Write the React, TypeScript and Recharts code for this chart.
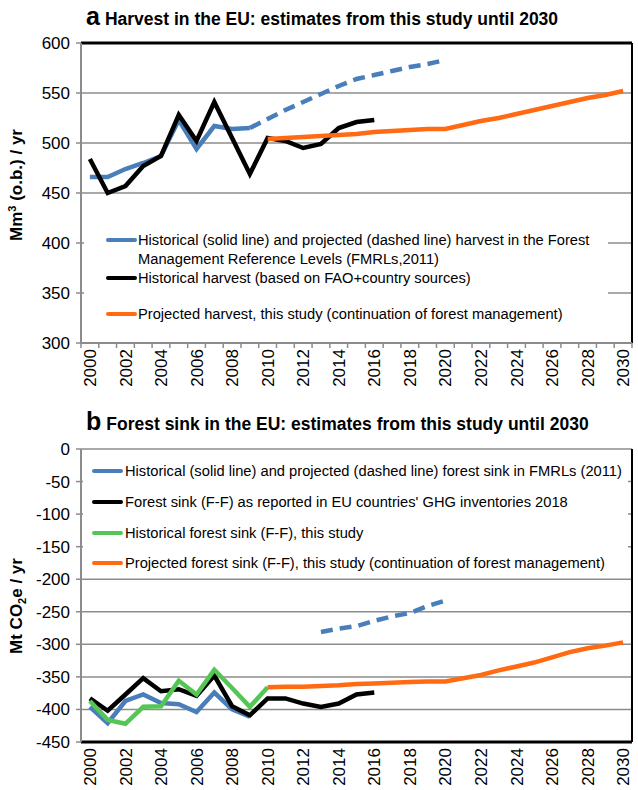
import React from 'react';
import { LineChart, Line, XAxis, YAxis, CartesianGrid, ReferenceLine, Legend } from 'recharts';

const FONT = '"Liberation Sans", Arial, Helvetica, sans-serif';
const BLUE = '#4A7EBB';
const ORANGE = '#FF6A13';
const GREEN = '#55C655';
const BLACK = '#000000';
const GRAY = '#8C8C8C';

// categories
const years = [2000, 2001, 2002, 2003, 2004, 2005, 2006, 2007, 2008, 2009, 2010, 2011, 2012, 2013, 2014, 2015,
  2016, 2017, 2018, 2019, 2020, 2021, 2022, 2023, 2024, 2025, 2026, 2027, 2028, 2029, 2030];
const labelYears = [2000, 2002, 2004, 2006, 2008, 2010, 2012, 2014, 2016, 2018, 2020, 2022, 2024, 2026, 2028, 2030];
const harvestTicks = [300, 350, 400, 450, 500, 550, 600];
const sinkTicks = [-450, -400, -350, -300, -250, -200, -150, -100, -50, 0];

// panel a: harvest (Mm3 o.b. / yr)
const harvestFmrlHist = [466, 466, 474, 480, 487, 523, 494, 517, 514, 515]; // 2000-2009
const harvestFmrlProj = [515, 524, 533, 541, 549, 557, 564, 568, 572, 576, 579, 583]; // 2009-2020
const harvestHist = [484, 450, 457, 477, 487, 528, 502, 541, 505, 469, 505, 502, 495, 499, 515, 521, 523]; // 2000-2016
const harvestProj = [504, 505, 506, 507, 508, 509, 511, 512, 513, 514, 514, 518, 522, 525, 529, 533, 537, 541, 545, 548, 552]; // 2010-2030

// panel b: forest sink (Mt CO2e / yr)
const sinkFmrlHist = [-396, -421, -387, -377, -390, -392, -404, -374, -400, -411]; // 2000-2009
const sinkFmrlProj = [-281, -276, -272, -264, -257, -252, -241, -233]; // 2013-2020
const sinkReported = [-383, -402, -377, -352, -372, -369, -379, -348, -395, -409, -383, -383, -391, -396, -391, -377, -374]; // 2000-2016
const sinkHist = [-387, -416, -422, -396, -395, -356, -377, -339, -367, -396, -366]; // 2000-2010
const sinkProj = [-366, -365, -365, -364, -363, -361, -360, -359, -358, -357, -357, -352, -347, -340, -334, -328, -320, -312, -306, -302, -297]; // 2010-2030

const harvestLegend = [
  { color: BLUE, lines: ['Historical (solid line) and projected (dashed line) harvest in the Forest', 'Management Reference Levels (FMRLs,2011)'] },
  { color: BLACK, lines: ['Historical harvest (based on FAO+country sources)'] },
  { color: ORANGE, lines: ['Projected harvest, this study (continuation of forest management)'] },
];
const sinkLegend = [
  { color: BLUE, lines: ['Historical (solid line) and projected (dashed line) forest sink in FMRLs (2011)'] },
  { color: BLACK, lines: ["Forest sink (F-F) as reported in EU countries' GHG inventories 2018"] },
  { color: GREEN, lines: ['Historical forest sink (F-F), this study'] },
  { color: ORANGE, lines: ['Projected forest sink (F-F), this study (continuation of forest management)'] },
];

function pick(arr: number[], start: number, year: number): number | null {
  const i = year - start;
  return i >= 0 && i < arr.length ? arr[i] : null;
}

const harvestRows = years.map((year) => ({
  year,
  fmrlHist: pick(harvestFmrlHist, 2000, year),
  fmrlProj: pick(harvestFmrlProj, 2009, year),
  hist: pick(harvestHist, 2000, year),
  proj: pick(harvestProj, 2010, year),
}));

const sinkRows = years.map((year) => ({
  year,
  fmrlHist: pick(sinkFmrlHist, 2000, year),
  fmrlProj: pick(sinkFmrlProj, 2013, year),
  reported: pick(sinkReported, 2000, year),
  hist: pick(sinkHist, 2000, year),
  proj: pick(sinkProj, 2010, year),
}));

const boundaries = [...years.map((y) => y - 0.5), 2030.5];
const harvestXTicks = [...boundaries, ...labelYears].sort((a, b) => a - b);
const xDomain: [number, number] = [1999.5, 2030.5];

const XTick = (props: any) => {
  const { x, y, payload, marks } = props;
  const v = payload.value;
  if (!Number.isInteger(v)) {
    if (!marks) return <g />;
    return <line x1={x} x2={x} y1={y} y2={y + 5} stroke={GRAY} strokeWidth={1.5} />;
  }
  const ty = y + 6;
  return (
    <text x={x} y={ty} transform={`rotate(-90, ${x}, ${ty})`} textAnchor="end" dy="0.36em"
      fontSize={17} fontFamily={FONT} fill="#000">{v}</text>
  );
};

const MarkTick = (props: any) => {
  const { x, y, payload } = props;
  if (Number.isInteger(payload.value)) return <g />;
  return <line x1={x} x2={x} y1={y} y2={y + 5} stroke="#555" strokeWidth={1.5} />;
};

function makeLegend(items: { color: string; lines: string[] }[], rowY: number[][], lineLeft: number, textLeft: number) {
  return () => (
    <div style={{ position: 'relative', width: '100%', height: '100%', background: '#fff', fontFamily: FONT, fontSize: 14.7, color: '#000' }}>
      {items.map((it, i) => (
        <React.Fragment key={i}>
          <div style={{ position: 'absolute', left: lineLeft, top: rowY[i][0] - 2, width: 31, height: 4, background: it.color, borderRadius: 2 }} />
          {it.lines.map((t, j) => (
            <div key={j} style={{ position: 'absolute', left: textLeft, top: rowY[i][j] - 9, lineHeight: '18px', whiteSpace: 'nowrap' }}>{t}</div>
          ))}
        </React.Fragment>
      ))}
    </div>
  );
}

const harvestLegendContent = makeLegend(harvestLegend, [[12, 31], [50], [86]], 22, 54);
const sinkLegendContent = makeLegend(sinkLegend, [[15], [46], [77], [107]], 9, 42);

const tickStyle = { fontSize: 17, fontFamily: FONT, fill: '#000' };

export default function App() {
  return (
    <div style={{ position: 'absolute', left: 0, top: 0, width: 638, height: 790, background: '#fff' }}>
      <svg width={638} height={790} style={{ position: 'absolute', left: 0, top: 0 }}>
        <text x={86} y={25} fontFamily={FONT} fontWeight="bold" fill="#000">
          <tspan fontSize={25}>a</tspan>
          <tspan fontSize={17.5} dx={5}>Harvest in the EU: estimates from this study until 2030</tspan>
        </text>
        <text x={86} y={430} fontFamily={FONT} fontWeight="bold" fill="#000">
          <tspan fontSize={25}>b</tspan>
          <tspan fontSize={17.5} dx={5}>Forest sink in the EU: estimates from this study until 2030</tspan>
        </text>
        <text x={22} y={185} transform="rotate(-90, 22, 185)" textAnchor="middle" fontFamily={FONT} fontWeight="bold" fontSize={17} fill="#000">
          Mm<tspan fontSize={11} dy={-6}>3</tspan><tspan dy={6}> (o.b.) / yr</tspan>
        </text>
        <text x={22} y={606} transform="rotate(-90, 22, 606)" textAnchor="middle" fontFamily={FONT} fontWeight="bold" fontSize={17} fill="#000">
          Mt CO<tspan fontSize={11} dy={4}>2</tspan><tspan dy={-4}>e / yr</tspan>
        </text>
      </svg>

      <div style={{ position: 'absolute', left: 0, top: 0 }}>
        <LineChart width={638} height={400} data={harvestRows} margin={{ top: 43, right: 6, bottom: 0, left: 0 }}>
          <CartesianGrid vertical={false} stroke={GRAY} strokeWidth={1.5} />
          <XAxis dataKey="year" type="number" domain={xDomain} ticks={harvestXTicks} interval={0}
            height={57} tickLine={false} tickSize={0} tickMargin={0}
            axisLine={{ stroke: GRAY, strokeWidth: 2 }} tick={<XTick marks />} />
          <YAxis type="number" domain={[300, 600]} ticks={harvestTicks} interval={0} width={81}
            tick={tickStyle} tickSize={5} tickMargin={6}
            tickLine={{ stroke: GRAY, strokeWidth: 1.5 }} axisLine={{ stroke: GRAY, strokeWidth: 2 }} />
          <ReferenceLine y={600} stroke={BLACK} strokeWidth={3} />
          <ReferenceLine x={2030.5} stroke={BLACK} strokeWidth={2} />
          <Legend layout="horizontal" verticalAlign="middle" align="center" content={harvestLegendContent}
            wrapperStyle={{ position: 'absolute', left: 84, top: 228, width: 524, height: 97 }} />
          <Line dataKey="fmrlHist" stroke={BLUE} strokeWidth={4.5} dot={false} isAnimationActive={false} />
          <Line dataKey="fmrlProj" stroke={BLUE} strokeWidth={4.5} strokeDasharray="12 7" dot={false} isAnimationActive={false} />
          <Line dataKey="hist" stroke={BLACK} strokeWidth={4.5} dot={false} isAnimationActive={false} />
          <Line dataKey="proj" stroke={ORANGE} strokeWidth={4.5} dot={false} isAnimationActive={false} />
        </LineChart>
      </div>

      <div style={{ position: 'absolute', left: 0, top: 400 }}>
        <LineChart width={638} height={390} data={sinkRows} margin={{ top: 49, right: 6, bottom: 0, left: 0 }}>
          <CartesianGrid vertical={false} stroke={GRAY} strokeWidth={1.5} />
          <XAxis dataKey="year" type="number" domain={xDomain} ticks={labelYears} interval={0}
            height={48} tickLine={false} tickSize={0} tickMargin={0}
            axisLine={{ stroke: BLACK, strokeWidth: 3 }} tick={<XTick />} />
          <XAxis xAxisId="top" orientation="top" dataKey="year" type="number" domain={xDomain} ticks={boundaries} interval={0}
            height={0} tickLine={false} tickSize={0} tickMargin={0}
            axisLine={{ stroke: '#555', strokeWidth: 2 }} tick={<MarkTick />} />
          <YAxis type="number" domain={[-450, 0]} ticks={sinkTicks} interval={0} width={81}
            tick={tickStyle} tickSize={5} tickMargin={6}
            tickLine={{ stroke: GRAY, strokeWidth: 1.5 }} axisLine={{ stroke: GRAY, strokeWidth: 2 }} />
          <ReferenceLine x={2030.5} stroke={BLACK} strokeWidth={2} />
          <Legend layout="horizontal" verticalAlign="middle" align="center" content={sinkLegendContent}
            wrapperStyle={{ position: 'absolute', left: 83, top: 56, width: 545, height: 120 }} />
          <Line dataKey="fmrlHist" stroke={BLUE} strokeWidth={4.5} dot={false} isAnimationActive={false} />
          <Line dataKey="fmrlProj" stroke={BLUE} strokeWidth={4.5} strokeDasharray="12 7" dot={false} isAnimationActive={false} />
          <Line dataKey="reported" stroke={BLACK} strokeWidth={4.5} dot={false} isAnimationActive={false} />
          <Line dataKey="hist" stroke={GREEN} strokeWidth={4.5} dot={false} isAnimationActive={false} />
          <Line dataKey="proj" stroke={ORANGE} strokeWidth={4.5} dot={false} isAnimationActive={false} />
        </LineChart>
      </div>
    </div>
  );
}
